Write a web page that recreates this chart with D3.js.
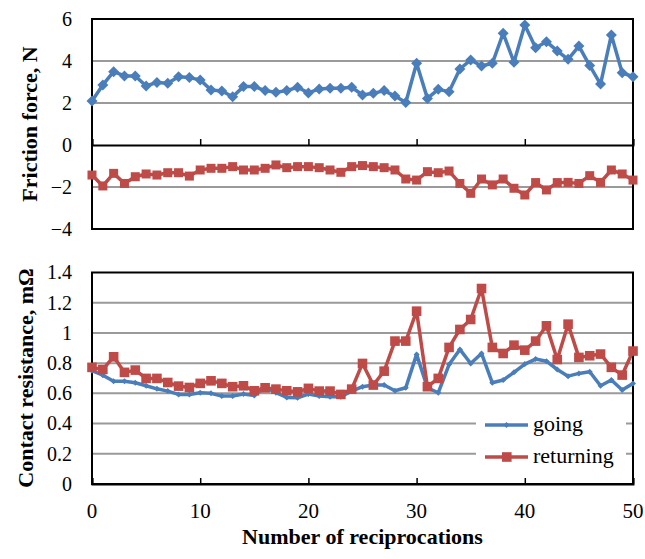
<!DOCTYPE html>
<html><head><meta charset="utf-8">
<script src="https://cdn.jsdelivr.net/npm/d3@7"></script>
<style>body{margin:0;background:#fff}svg{display:block}</style>
</head><body>
<script>
const reciprocations = [0,1,2,3,4,5,6,7,8,9,10,11,12,13,14,15,16,17,18,19,20,21,22,23,24,25,26,27,28,29,30,31,32,33,34,35,36,37,38,39,40,41,42,43,44,45,46,47,48,49,50];
const frictionGoing = [2.10,2.86,3.49,3.29,3.29,2.81,2.98,2.94,3.25,3.21,3.10,2.62,2.57,2.30,2.78,2.78,2.59,2.51,2.59,2.75,2.48,2.67,2.70,2.70,2.75,2.38,2.46,2.59,2.33,2.02,3.89,2.22,2.65,2.54,3.62,4.05,3.76,3.89,5.32,3.94,5.71,4.63,4.92,4.48,4.08,4.71,3.78,2.90,5.24,3.44,3.25];
const frictionReturning = [-1.43,-1.95,-1.35,-1.83,-1.51,-1.38,-1.43,-1.32,-1.32,-1.48,-1.19,-1.11,-1.11,-1.03,-1.19,-1.19,-1.11,-0.95,-1.08,-1.03,-1.03,-1.08,-1.19,-1.30,-1.03,-0.98,-1.03,-1.08,-1.19,-1.62,-1.67,-1.27,-1.32,-1.24,-1.83,-2.30,-1.62,-1.90,-1.62,-2.06,-2.38,-1.79,-2.14,-1.79,-1.78,-1.83,-1.46,-1.78,-1.19,-1.38,-1.67];
const resistGoing = [0.750,0.720,0.680,0.680,0.670,0.650,0.630,0.615,0.593,0.593,0.604,0.600,0.582,0.582,0.595,0.586,0.640,0.604,0.573,0.571,0.595,0.582,0.578,0.578,0.615,0.644,0.655,0.655,0.617,0.637,0.858,0.637,0.604,0.791,0.891,0.798,0.864,0.670,0.688,0.739,0.794,0.827,0.813,0.758,0.714,0.732,0.743,0.650,0.688,0.622,0.666];
const resistReturning = [0.772,0.758,0.842,0.739,0.754,0.699,0.699,0.672,0.648,0.639,0.666,0.683,0.666,0.644,0.650,0.617,0.637,0.628,0.617,0.610,0.633,0.615,0.615,0.593,0.628,0.798,0.655,0.747,0.946,0.946,1.144,0.644,0.699,0.904,1.023,1.089,1.294,0.904,0.864,0.919,0.886,0.946,1.047,0.824,1.058,0.838,0.849,0.860,0.772,0.721,0.880];
const xTicks = [0,10,20,30,40,50];
const frictionTicks = [-4,-2,0,2,4,6];
const resistTicks = [0,0.2,0.4,0.6,0.8,1,1.2,1.4];
const seriesNames = ["going","returning"];

const W = 645, H = 559;
const BLUE = "#4A7EBB", RED = "#BE4B48";
const svg = d3.select("body").append("svg").attr("width", W).attr("height", H);
const serif = "'Liberation Serif','Times New Roman',serif";

const x = d3.scaleLinear().domain([0,50]).range([92,633]);
const yTop = d3.scaleLinear().domain([-4,6]).range([229,19]);
const yBot = d3.scaleLinear().domain([0,1.4]).range([484,272.5]);

function panel(y, ticks, gridVals, zeroVal, tickFmt, showXLabels) {
  const g = svg.append("g");
  g.selectAll("line.grid").data(gridVals).enter().append("line")
    .attr("x1", x(0)).attr("x2", x(50))
    .attr("y1", d => y(d)).attr("y2", d => y(d))
    .attr("stroke", "#9a9a9a").attr("stroke-width", 2);
  const ya = d3.axisLeft(y).tickValues(ticks).tickSize(0).tickPadding(20).tickFormat(tickFmt);
  const yg = g.append("g").attr("transform", `translate(${x(0)},0)`).call(ya);
  yg.attr("font-family", serif).attr("font-size", 20);
  yg.select(".domain").remove();
  yg.selectAll("text").attr("fill", "#000");
  const xa = d3.axisTop(x).tickValues(xTicks).tickSize(6).tickFormat("");
  const xg = g.append("g").attr("transform", `translate(0,${y(zeroVal)})`).call(xa);
  xg.select(".domain").attr("stroke", "#000").attr("stroke-width", 2);
  xg.selectAll(".tick line").attr("stroke", "#000").attr("stroke-width", 1.5);
  if (showXLabels) {
    g.selectAll("text.xl").data(xTicks).enter().append("text")
      .attr("x", d => x(d)).attr("y", 518)
      .attr("text-anchor", "middle").attr("font-family", serif).attr("font-size", 21)
      .text(d => d);
  }
  const [y0, y1] = y.range();
  g.append("rect").attr("x", x(0)).attr("y", y1).attr("width", x(50) - x(0)).attr("height", y0 - y1)
    .attr("fill", "none").attr("stroke", "#000").attr("stroke-width", 2);
  return g;
}

function diamondSeries(g, y, vals, color, half, lw) {
  const line = d3.line().x((d, i) => x(reciprocations[i])).y(d => y(d));
  g.append("path").datum(vals).attr("d", line).attr("fill", "none")
    .attr("stroke", color).attr("stroke-width", lw).attr("stroke-linejoin", "round");
  g.selectAll(null).data(vals).enter().append("path")
    .attr("d", `M0,${-half}L${half},0L0,${half}L${-half},0Z`)
    .attr("transform", (d, i) => `translate(${x(reciprocations[i])},${y(d)})`)
    .attr("fill", color);
}
function squareSeries(g, y, vals, color, half, lw) {
  const line = d3.line().x((d, i) => x(reciprocations[i])).y(d => y(d));
  g.append("path").datum(vals).attr("d", line).attr("fill", "none")
    .attr("stroke", color).attr("stroke-width", lw).attr("stroke-linejoin", "round");
  g.selectAll(null).data(vals).enter().append("rect")
    .attr("x", (d, i) => x(reciprocations[i]) - half).attr("y", d => y(d) - half)
    .attr("width", 2 * half).attr("height", 2 * half)
    .attr("fill", color);
}

// Top panel
const gTop = panel(yTop, frictionTicks, [-2,2,4], 0, d => d < 0 ? "\u2212" + Math.abs(d) : d, false);
diamondSeries(gTop, yTop, frictionGoing, BLUE, 5.5, 3.5);
squareSeries(gTop, yTop, frictionReturning, RED, 4.5, 3.5);

// Bottom panel
const gBot = panel(yBot, resistTicks, [0.2,0.4,0.6,0.8,1,1.2], 0, d => d, true);
gBot.append("rect").attr("x", 476).attr("y", 408).attr("width", 150).attr("height", 66).attr("fill", "#fff");
diamondSeries(gBot, yBot, resistGoing, BLUE, 3, 3.5);
squareSeries(gBot, yBot, resistReturning, RED, 4.8, 3.5);

// legend
const lg = svg.append("g");
const legItems = [{name: seriesNames[0], color: BLUE, y: 425, shape: "d"}, {name: seriesNames[1], color: RED, y: 457, shape: "s"}];
legItems.forEach(it => {
  lg.append("line").attr("x1", 485).attr("x2", 528).attr("y1", it.y).attr("y2", it.y)
    .attr("stroke", it.color).attr("stroke-width", 3.5);
  if (it.shape === "d") lg.append("path").attr("d", "M0,-3L3,0L0,3L-3,0Z").attr("transform", `translate(506.5,${it.y})`).attr("fill", it.color);
  else lg.append("rect").attr("x", 502).attr("y", it.y - 4.8).attr("width", 9.6).attr("height", 9.6).attr("fill", it.color);
  lg.append("text").attr("x", 533).attr("y", it.y + 6).attr("font-family", serif).attr("font-size", 22).text(it.name);
});

// axis titles
svg.append("text").attr("transform", "translate(37,124) rotate(-90)").attr("text-anchor", "middle")
  .attr("font-family", serif).attr("font-weight", "bold").attr("font-size", 22).text("Friction force, N");
svg.append("text").attr("transform", "translate(33,378) rotate(-90)").attr("text-anchor", "middle")
  .attr("font-family", serif).attr("font-weight", "bold").attr("font-size", 22).text("Contact resistance, m\u03A9");
svg.append("text").attr("x", 362.5).attr("y", 544).attr("text-anchor", "middle")
  .attr("font-family", serif).attr("font-weight", "bold").attr("font-size", 22).text("Number of reciprocations");
</script>
</body></html>
